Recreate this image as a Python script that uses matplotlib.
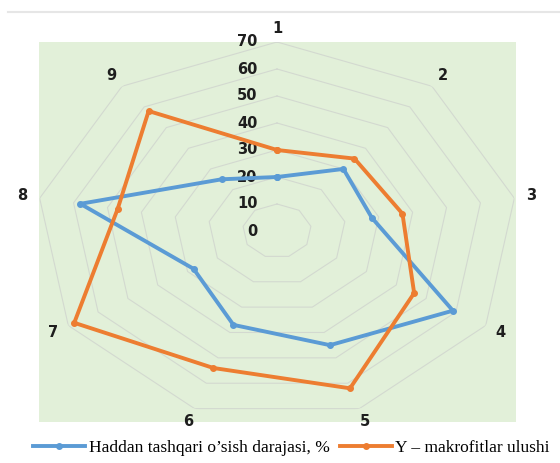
import numpy as np
import matplotlib.pyplot as plt
from matplotlib.patches import Rectangle
from matplotlib.lines import Line2D

categories = ['1', '2', '3', '4', '5', '6', '7', '8', '9']
haddan = [20, 30, 28, 59, 45, 37, 28, 58, 25]
makrofit = [30, 35, 37, 46, 62, 54, 68, 47, 58]
rticks = [0, 10, 20, 30, 40, 50, 60, 70]
labels = ["Haddan tashqari o\u2019sish darajasi, %", "Y \u2013 makrofitlar ulushi"]

blue = '#5B9BD5'
orange = '#ED7D31'

fig = plt.figure(figsize=(5.6, 4.63), dpi=100)

# green plot area + thin line on top
fig.patches.append(Rectangle((39 / 560, 1 - 422 / 463), 477 / 560, 380 / 463,
                             transform=fig.transFigure, facecolor='#E2F0D9',
                             edgecolor='none', zorder=-5))
fig.lines.append(Line2D([8 / 560, 1], [1 - 12 / 463] * 2, transform=fig.transFigure,
                        color='#e6e6e6', lw=1.5, zorder=-5))

ax = fig.add_axes([36 / 560, 43 / 463, 482 / 560, 378 / 463], projection='polar')
ax.set_zorder(1)
ax.set_aspect('auto')
ax.patch.set_visible(False)
ax.set_theta_zero_location('N')
ax.set_theta_direction(-1)
ax.set_ylim(0, 70)
ax.grid(False)
ax.spines['polar'].set_visible(False)
ax.set_xticks([])
ax.set_yticks([])

n = len(categories)
ang = np.arange(n) * 2 * np.pi / n
ang_c = np.append(ang, ang[0])

# polygon rings
for r in rticks[1:]:
    ax.plot(ang_c, [r] * (n + 1), color='#d3d9d0', lw=0.8, zorder=1)

for r in rticks:
    ax.annotate(str(r), xy=(0, r), xytext=(-14, 0), textcoords='offset points',
                ha='right', va='center', fontsize=10.5, fontweight='bold', color='#1e1e1e')

for a, c in zip(ang, categories):
    ax.text(a, 75, c, ha='center', va='center', fontsize=10.5, fontweight='bold', color='#1e1e1e')

l1, = ax.plot(ang_c, haddan + haddan[:1], color=blue, lw=2.8, marker='o', ms=4, zorder=3)
l2, = ax.plot(ang_c, makrofit + makrofit[:1], color=orange, lw=2.8, marker='o', ms=4, zorder=3)

fig.legend([l1, l2], labels, loc='center left', bbox_to_anchor=(33 / 560, 1 - 448 / 463),
           ncol=2, frameon=False, borderaxespad=0, borderpad=0, handlelength=3.0,
           handletextpad=0.2, columnspacing=0.6,
           prop={'family': 'Liberation Serif', 'size': 12.5})

fig.savefig('out.png', dpi=100)
